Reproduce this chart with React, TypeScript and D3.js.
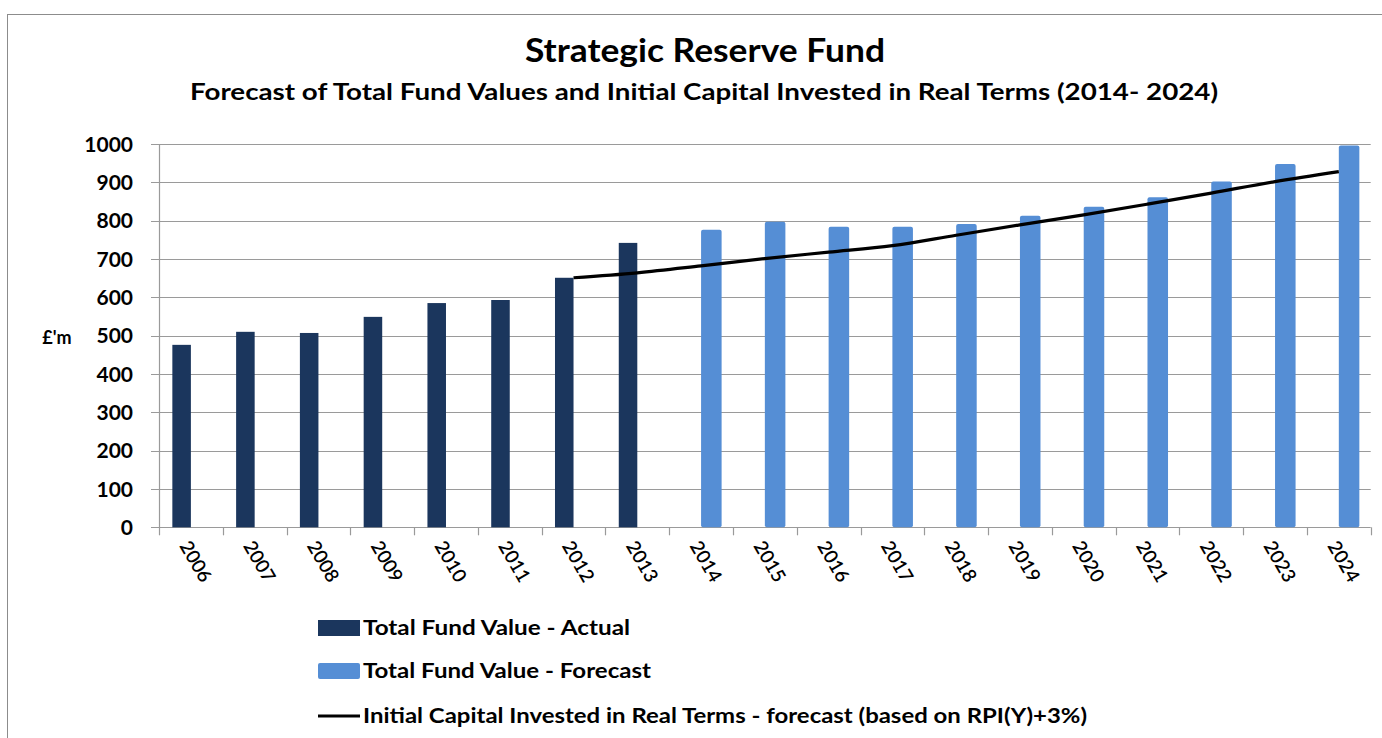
import React, { useEffect, useRef } from 'react';
import * as d3 from 'd3';

// Data
const years = ['2006', '2007', '2008', '2009', '2010', '2011', '2012', '2013', '2014', '2015',
  '2016', '2017', '2018', '2019', '2020', '2021', '2022', '2023', '2024'];
const actualYears = ['2006', '2007', '2008', '2009', '2010', '2011', '2012', '2013'];
const actualValues = [476, 510, 507, 549, 585, 593, 651, 742];
const forecastYears = ['2014', '2015', '2016', '2017', '2018', '2019', '2020', '2021', '2022', '2023', '2024'];
const forecastValues = [776, 797, 784, 784, 791, 813, 836, 861, 902, 948, 996];
const capitalYears = ['2012', '2013', '2014', '2015', '2016', '2017', '2018', '2019', '2020', '2021', '2022', '2023', '2024'];
const capitalValues = [651, 664, 682, 701, 718, 735, 762, 789, 815, 843, 872, 902, 928];
const yTicks = [0, 100, 200, 300, 400, 500, 600, 700, 800, 900, 1000];
const legendLabels = [
  'Total Fund Value - Actual',
  'Total Fund Value - Forecast',
  'Initial Capital Invested in Real Terms - forecast (based on RPI(Y)+3%)',
];

const App = () => {
  const svgRef = useRef<SVGSVGElement>(null);

  useEffect(() => {
    const svg = d3.select(svgRef.current);
    svg.selectAll('*').remove();

    const width = 1382;
    const height = 738;
    const margin = { top: 144, right: 11.3, bottom: 210.7, left: 159 };
    const font = 'Lato, "DejaVu Sans", sans-serif';

    const colors = {
      actual: '#1b365d',
      forecast: '#558ed5',
      line: '#000000',
      grid: '#9a9a9a',
    };

    // outer frame
    svg.append('rect')
      .attr('x', 7.5).attr('y', 14.5)
      .attr('width', width).attr('height', height)
      .attr('fill', '#fff')
      .attr('stroke', '#8c8c8c');

    // scales
    const x = d3.scaleBand()
      .domain(years)
      .range([margin.left, width - margin.right])
      .padding(0);

    const xSub = d3.scaleBand()
      .domain(['actual', 'forecast'])
      .range([0, x.bandwidth()])
      .paddingInner(0)
      .paddingOuter(0.72);

    const y = d3.scaleLinear()
      .domain([0, 1000])
      .range([height - margin.bottom, margin.top]);

    // gridlines
    svg.append('g')
      .selectAll('line')
      .data(yTicks)
      .join('line')
      .attr('x1', margin.left - 8)
      .attr('x2', width - margin.right)
      .attr('y1', d => Math.round(y(d)) + 0.5)
      .attr('y2', d => Math.round(y(d)) + 0.5)
      .attr('stroke', colors.grid)
      .attr('stroke-width', 1.2);

    // y axis line
    svg.append('line')
      .attr('x1', margin.left + 0.5).attr('x2', margin.left + 0.5)
      .attr('y1', y(1000)).attr('y2', y(0))
      .attr('stroke', colors.grid)
      .attr('stroke-width', 1.2);

    // x axis ticks at category boundaries
    const boundaries = years.map(d => x(d)).concat([width - margin.right]);
    svg.append('g')
      .selectAll('line')
      .data(boundaries)
      .join('line')
      .attr('x1', d => Math.round(d) + 0.5)
      .attr('x2', d => Math.round(d) + 0.5)
      .attr('y1', y(0))
      .attr('y2', y(0) + 8)
      .attr('stroke', colors.grid)
      .attr('stroke-width', 1.2);

    // y tick labels
    svg.append('g')
      .selectAll('text')
      .data(yTicks)
      .join('text')
      .attr('x', 133)
      .attr('y', d => y(d))
      .attr('dy', '0.36em')
      .attr('text-anchor', 'end')
      .style('font-family', font)
      .style('font-size', '21px')
      .style('font-weight', 'bold')
      .text(d => d);

    // y axis title
    svg.append('text')
      .attr('x', 57)
      .attr('y', 338)
      .attr('dy', '0.36em')
      .attr('text-anchor', 'middle')
      .style('font-family', font)
      .style('font-size', '18px')
      .style('font-weight', 'bold')
      .text("£'m");

    // x tick labels (rotated)
    svg.append('g')
      .selectAll('text')
      .data(years)
      .join('text')
      .attr('transform', d => `translate(${x(d) + x.bandwidth() / 2 - 6},${y(0) + 15}) rotate(60)`)
      .attr('dy', '0.36em')
      .attr('text-anchor', 'start')
      .style('font-family', font)
      .style('font-size', '19px')
      .style('font-weight', '600')
      .text(d => d);

    // actual bars
    svg.append('g')
      .selectAll('rect')
      .data(actualValues)
      .join('rect')
      .attr('x', (d, i) => x(actualYears[i]) + xSub('actual'))
      .attr('y', d => y(d))
      .attr('width', xSub.bandwidth())
      .attr('height', d => y(0) - y(d))
      .attr('fill', colors.actual);

    // forecast bars
    svg.append('g')
      .selectAll('rect')
      .data(forecastValues)
      .join('rect')
      .attr('x', (d, i) => x(forecastYears[i]) + xSub('forecast'))
      .attr('y', d => y(d))
      .attr('width', xSub.bandwidth() + 2)
      .attr('height', d => y(0) - y(d))
      .attr('rx', 2)
      .attr('fill', colors.forecast);

    // capital line
    const line = d3.line<number>()
      .x((d, i) => x(capitalYears[i]) + x.bandwidth() / 2)
      .y(d => y(d))
      .curve(d3.curveMonotoneX);

    svg.append('path')
      .datum(capitalValues)
      .attr('d', line)
      .attr('fill', 'none')
      .attr('stroke', colors.line)
      .attr('stroke-width', 3.2);

    // titles
    svg.append('text')
      .attr('x', 705)
      .attr('y', 62)
      .attr('text-anchor', 'middle')
      .attr('textLength', 360)
      .attr('lengthAdjust', 'spacingAndGlyphs')
      .style('font-family', font)
      .style('font-size', '33px')
      .style('font-weight', 'bold')
      .text('Strategic Reserve Fund');

    svg.append('text')
      .attr('x', 704)
      .attr('y', 100)
      .attr('text-anchor', 'middle')
      .attr('textLength', 1028)
      .attr('lengthAdjust', 'spacingAndGlyphs')
      .style('font-family', font)
      .style('font-size', '23px')
      .style('font-weight', 'bold')
      .text('Forecast of Total Fund Values and Initial Capital Invested in Real Terms (2014- 2024)');

    // legend
    const legendY = [628, 671, 716];
    const legendWidths = [267, 288, 724];
    const legend = svg.append('g');
    legend.append('rect')
      .attr('x', 318).attr('y', legendY[0] - 8)
      .attr('width', 42).attr('height', 16)
      .attr('fill', colors.actual);
    legend.append('rect')
      .attr('x', 318).attr('y', legendY[1] - 8)
      .attr('width', 42).attr('height', 16)
      .attr('rx', 2)
      .attr('fill', colors.forecast);
    legend.append('line')
      .attr('x1', 318).attr('x2', 360)
      .attr('y1', legendY[2]).attr('y2', legendY[2])
      .attr('stroke', colors.line)
      .attr('stroke-width', 3.2);

    legend.selectAll('text')
      .data(legendLabels)
      .join('text')
      .attr('x', 363)
      .attr('y', (d, i) => legendY[i])
      .attr('dy', '0.36em')
      .attr('textLength', (d, i) => legendWidths[i])
      .attr('lengthAdjust', 'spacingAndGlyphs')
      .style('font-family', font)
      .style('font-size', '20px')
      .style('font-weight', 'bold')
      .text(d => d);
  }, []);

  return (
    <svg
      ref={svgRef}
      width={1382}
      height={738}
      style={{ position: 'absolute', left: 0, top: 0, background: '#fff' }}
    />
  );
};

export default App;
